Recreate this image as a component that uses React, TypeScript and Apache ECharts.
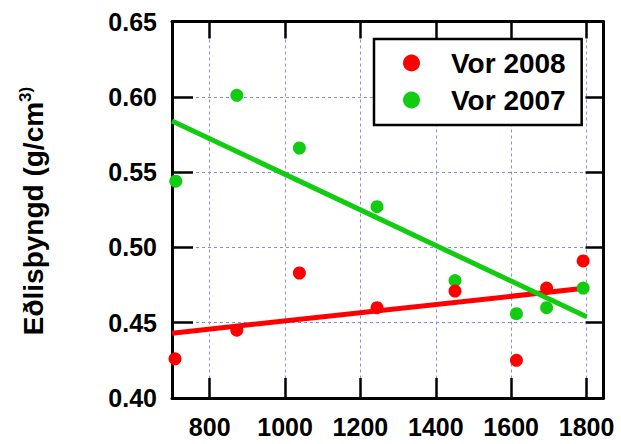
import React, { useEffect, useRef } from 'react';
import * as echarts from 'echarts';

const xTicks = [800, 1000, 1200, 1400, 1600, 1800];

const vor2008: [number, number][] = [
  [708, 0.426], [872, 0.445], [1038, 0.483], [1244, 0.46],
  [1451, 0.471], [1614, 0.425], [1694, 0.473], [1791, 0.491],
];

const vor2007: [number, number][] = [
  [710, 0.544], [872, 0.601], [1038, 0.566], [1244, 0.527],
  [1451, 0.478], [1614, 0.456], [1694, 0.46], [1791, 0.473],
];

const trend2008: [number, number][] = [[700, 0.443], [1800, 0.473]];
const trend2007: [number, number][] = [[700, 0.584], [1800, 0.454]];

const RED = '#ff0000';
const GREEN = '#11cc11';
const FONT = 'Arial, "Liberation Sans", sans-serif';

export default function App() {
  const ref = useRef<HTMLDivElement>(null);
  useEffect(() => {
    document.body.style.margin = '0';
    const chart = echarts.init(ref.current as HTMLDivElement, null, { renderer: 'svg' });
    const frameLine = { color: '#000', width: 3 };
    const tickLine = { color: '#000', width: 2.5 };
    const labelStyle = { fontSize: 25, fontWeight: 'bold' as const, color: '#000', fontFamily: FONT };
    chart.setOption({
      animation: false,
      backgroundColor: '#fff',
      grid: { left: 172, right: 17.5, top: 21.5, bottom: 46, containLabel: false },
      legend: {
        data: ['Vor 2008', 'Vor 2007'],
        orient: 'vertical',
        left: 374,
        top: 39,
        padding: [10, 16, 11, 29],
        itemGap: 9,
        itemWidth: 17,
        itemHeight: 17,
        icon: 'circle',
        backgroundColor: '#fff',
        borderColor: '#000',
        borderWidth: 2.5,
        borderRadius: 0,
        textStyle: {
          fontSize: 28, fontWeight: 'bold', color: '#000', fontFamily: FONT, lineHeight: 28,
          padding: [0, 0, 0, 26],
        },
      },
      xAxis: [
        {
          type: 'value', position: 'bottom', min: 700, max: 1845,
          axisLine: { show: true, onZero: false, lineStyle: frameLine },
          axisTick: { show: true, inside: true, length: 20, customValues: xTicks, lineStyle: tickLine },
          axisLabel: { ...labelStyle, customValues: xTicks, margin: 16, formatter: (v: number) => String(v) },
          splitLine: { show: true, lineStyle: { color: '#8a8aee', width: 1, type: [3, 3] } },
        },
        {
          type: 'value', position: 'top', min: 700, max: 1845,
          axisLine: { show: true, onZero: false, lineStyle: frameLine },
          axisTick: { show: true, inside: true, length: 17, customValues: xTicks, lineStyle: tickLine },
          axisLabel: { show: false },
          splitLine: { show: false },
        },
      ],
      yAxis: [
        {
          type: 'value', position: 'left', min: 0.4, max: 0.65, interval: 0.05,
          axisLine: { show: true, onZero: false, lineStyle: frameLine },
          axisTick: { show: true, inside: true, length: 21, lineStyle: tickLine },
          axisLabel: { ...labelStyle, margin: 15, formatter: (v: number) => v.toFixed(2) },
          splitLine: { show: true, lineStyle: { color: '#8a8aee', width: 1, type: [3, 3] } },
        },
        {
          type: 'value', position: 'right', min: 0.4, max: 0.65, interval: 0.05,
          axisLine: { show: true, onZero: false, lineStyle: frameLine },
          axisTick: { show: true, inside: true, length: 18, lineStyle: tickLine },
          axisLabel: { show: false },
          splitLine: { show: false },
        },
      ],
      graphic: [
        {
          type: 'text',
          x: 33,
          y: 211,
          rotation: Math.PI / 2,
          style: {
            text: 'Eðlisþyngd (g/cm{sup|3)}',
            fill: '#000',
            font: `bold 28px ${FONT}`,
            fontSize: 28,
            fontWeight: 'bold',
            fontFamily: FONT,
            align: 'center',
            verticalAlign: 'middle',
            textAlign: 'center',
            textVerticalAlign: 'middle',
            lineHeight: 32,
            rich: {
              sup: { fontSize: 17, fontWeight: 'bold', fontFamily: FONT, fill: '#000', verticalAlign: 'top', lineHeight: 17 },
            },
          },
        },
      ],
      series: [
        {
          name: 'Trend 2008', type: 'line', data: trend2008, symbol: 'none', z: 2,
          lineStyle: { color: RED, width: 5 }, itemStyle: { color: RED },
        },
        {
          name: 'Trend 2007', type: 'line', data: trend2007, symbol: 'none', z: 3,
          lineStyle: { color: GREEN, width: 5 }, itemStyle: { color: GREEN },
        },
        {
          name: 'Vor 2007', type: 'scatter', data: vor2007, symbolSize: 13, z: 4,
          itemStyle: { color: GREEN, opacity: 1 },
        },
        {
          name: 'Vor 2008', type: 'scatter', data: vor2008, symbolSize: 13, z: 5,
          itemStyle: { color: RED, opacity: 1 },
        },
      ],
    });
    return () => chart.dispose();
  }, []);
  return <div ref={ref} style={{ position: 'absolute', left: 0, top: 0, width: 621, height: 444 }} />;
}
